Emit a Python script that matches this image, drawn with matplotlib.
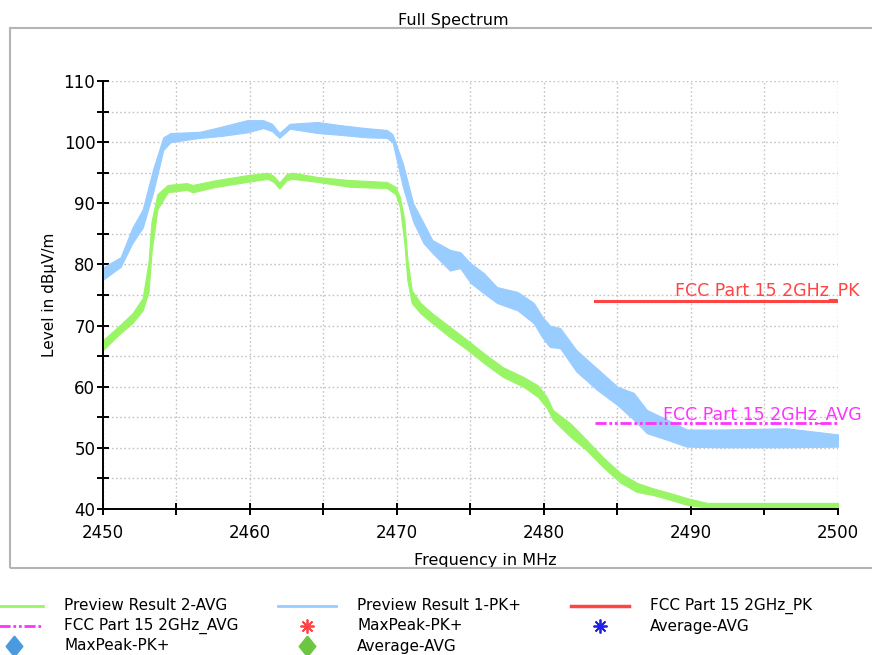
import matplotlib
matplotlib.use("Agg")
import matplotlib.pyplot as plt
from matplotlib.lines import Line2D
from matplotlib.patches import Rectangle
from matplotlib.ticker import MultipleLocator

plt.rcParams["font.family"] = ["DejaVu Sans"]

# ---------------------------------------------------------------------------
# Data (band = low/high envelope of the noisy trace)
# ---------------------------------------------------------------------------
freq_pk = [2450, 2451.2, 2452, 2452.7, 2453.4, 2454.1, 2454.6, 2455.7, 2456.6,
           2458, 2459.8, 2460.9, 2461.5, 2462.0, 2462.7, 2464.6, 2466.1,
           2467.9, 2469.3, 2469.7, 2470.4, 2471.1, 2471.8, 2472.4, 2473.6,
           2474.3, 2475, 2475.9, 2476.8, 2478.2, 2479.3, 2479.9, 2480.4,
           2481.1, 2482.2, 2483.6, 2485, 2486.1, 2487, 2488.4, 2489.7, 2492,
           2496.5, 2500]
pk_lo = [77.5, 79.6, 83.5, 86.0, 91.7, 98.7, 100.0, 100.4, 100.7,
         101.0, 101.6, 102.3, 101.8, 100.7, 102.2, 101.5, 101.2,
         100.8, 100.7, 100.0, 92.7, 87.0, 83.5, 81.9, 79.0,
         79.4, 77.0, 75.3, 73.7, 72.5, 70.4, 68.0, 66.5,
         66.3, 62.5, 59.5, 57.0, 54.6, 52.4, 51.3, 50.2, 50.1,
         50.1, 50.2]
pk_hi = [79.5, 81.2, 86.0, 89.0, 95.5, 100.8, 101.5, 101.6, 101.7,
         102.5, 103.6, 103.6, 103.0, 101.5, 103.0, 103.3, 102.8,
         102.3, 102.0, 101.3, 96.5, 90.0, 86.8, 84.0, 82.4,
         82.0, 80.2, 78.6, 76.3, 75.5, 73.7, 71.4, 70.0,
         69.6, 66.0, 63.0, 60.0, 59.0, 56.2, 54.6, 53.0, 53.0,
         53.2, 52.2]

freq_avg = [2450, 2451.2, 2452, 2452.7, 2453.1, 2453.3, 2453.7, 2454.4,
            2455.7, 2456.1, 2457.7, 2459.8, 2461.2, 2461.6, 2462.0, 2462.5,
            2462.9, 2464.6, 2466.8, 2469.3, 2469.9, 2470.2, 2470.5, 2470.7,
            2471.0, 2471.6, 2472.4, 2473.6, 2474.8, 2475.9, 2477.2, 2478.6,
            2479.6, 2480.2, 2480.6, 2481.8, 2482.9, 2484, 2485.2, 2486.3,
            2487.4, 2488.6, 2489.7, 2491.1, 2500]
avg_lo = [66.0, 68.8, 70.4, 72.5, 75.5, 82.0, 89.0, 91.8,
          92.2, 91.8, 92.7, 93.5, 94.0, 93.5, 92.4, 93.8,
          94.0, 93.5, 92.7, 92.5, 91.5, 89.4, 83.5, 77.5,
          73.7, 72.0, 70.4, 68.1, 66.0, 63.9, 61.6, 60.0,
          58.3, 56.5, 54.6, 51.8, 49.6, 46.9, 44.3, 42.8,
          42.3, 41.5, 40.7, 40.2, 40.2]
avg_hi = [67.6, 70.2, 72.0, 74.5, 80.5, 87.0, 91.5, 93.0,
          93.3, 93.0, 93.8, 94.6, 95.0, 94.5, 93.4, 94.8,
          95.0, 94.3, 93.8, 93.5, 92.7, 91.0, 87.3, 81.0,
          75.8, 73.7, 72.0, 69.8, 67.6, 65.5, 63.2, 61.6,
          60.2, 58.3, 56.2, 54.0, 51.3, 48.5, 45.9, 44.3,
          43.4, 42.6, 41.8, 41.0, 41.0]

limit_freq = [2483.5, 2500]
limit_pk = [74, 74]
limit_avg = [54, 54]

GREEN = "#99f566"
BLUE = "#99ccff"
RED = "#ff4444"
MAGENTA = "#ff33ff"
DASH_DOT_DOT = (4, 1, 1, 1, 1, 1)
DIAMOND = [(0, 1), (0.8, 0), (0, -1), (-0.8, 0), (0, 1)]

# ---------------------------------------------------------------------------
# Figure
# ---------------------------------------------------------------------------
fig = plt.figure(figsize=(8.72, 6.55), dpi=100)
fig.patches.append(Rectangle((0.0115, 0.133), 1.0, 0.824, transform=fig.transFigure,
                             fill=False, edgecolor="#b4b4b4", lw=1.5))
fig.text(0.52, 0.968, "Full Spectrum", ha="center", va="center", fontsize=11.5)

ax = fig.add_axes([0.1181, 0.2229, 0.8429, 0.6534])

ax.fill_between(freq_pk, pk_lo, pk_hi, color=BLUE, lw=0.8)
ax.fill_between(freq_avg, avg_lo, avg_hi, color=GREEN, lw=0.8)

ax.plot(limit_freq, limit_pk, color=RED, lw=2.2)
ax.plot(limit_freq, limit_avg, color=MAGENTA, lw=2, dashes=DASH_DOT_DOT)
ax.text(2488.9, 74.9, "FCC Part 15 2GHz_PK", color=RED, fontsize=12.5,
        va="baseline", ha="left", clip_on=False)
ax.text(2488.1, 54.6, "FCC Part 15 2GHz_AVG", color=MAGENTA, fontsize=12.5,
        va="baseline", ha="left", clip_on=False)

ax.set_xlim(2450, 2500)
ax.set_ylim(40, 110)
ax.xaxis.set_major_locator(MultipleLocator(10))
ax.xaxis.set_minor_locator(MultipleLocator(5))
ax.yaxis.set_major_locator(MultipleLocator(10))
ax.yaxis.set_minor_locator(MultipleLocator(5))
ax.tick_params(which="both", direction="inout", length=9, width=1.4, labelsize=12)
ax.tick_params(axis="y", pad=1)
ax.tick_params(axis="x", pad=6)
ax.grid(which="both", color="#c4c4c4", linestyle=(0, (1.2, 1.8)), lw=1)
ax.set_axisbelow(True)
for side in ("top", "right"):
    ax.spines[side].set_visible(False)
for side in ("left", "bottom"):
    ax.spines[side].set_linewidth(1.4)

ax.set_xlabel("Frequency in MHz", fontsize=11.5)
ax.xaxis.set_label_coords(0.52, -0.103)
ax.set_ylabel("Level in dBµV/m", fontsize=11)
ax.yaxis.set_label_coords(-0.062, 0.5)

# ---------------------------------------------------------------------------
# Legend (three columns below the frame)
# ---------------------------------------------------------------------------
W, H = 872.0, 655.0
col_c = [14, 307, 600]
col_t = [64, 357, 650]
row_y = [606, 626, 646]
entries = [
    (0, 0, dict(color=GREEN, lw=2), "Preview Result 2-AVG"),
    (1, 0, dict(color=BLUE, lw=2), "Preview Result 1-PK+"),
    (2, 0, dict(color=RED, lw=2.5), "FCC Part 15 2GHz_PK"),
    (0, 1, dict(color=MAGENTA, lw=2, dashes=DASH_DOT_DOT), "FCC Part 15 2GHz_AVG"),
    (1, 1, dict(color=RED, lw=0, marker=(8, 2, 0), ms=10, mew=1.3), "MaxPeak-PK+"),
    (2, 1, dict(color="#2222ee", lw=0, marker=(8, 2, 0), ms=10, mew=1.3), "Average-AVG"),
    (0, 2, dict(color="#4a9ae0", lw=0, marker=DIAMOND, ms=15), "MaxPeak-PK+"),
    (1, 2, dict(color="#6cc640", lw=0, marker=DIAMOND, ms=15), "Average-AVG"),
]
for c, r, style, label in entries:
    yy = 1 - row_y[r] / H
    if style.get("lw", 0) > 0:
        xs = [(col_c[c] - 29) / W, (col_c[c] + 29) / W]
    else:
        xs = [col_c[c] / W]
    fig.add_artist(Line2D(xs, [yy] * len(xs), transform=fig.transFigure, **style))
    fig.text(col_t[c] / W, yy, label, ha="left", va="center", fontsize=11)

fig.savefig("out.png", dpi=100)
